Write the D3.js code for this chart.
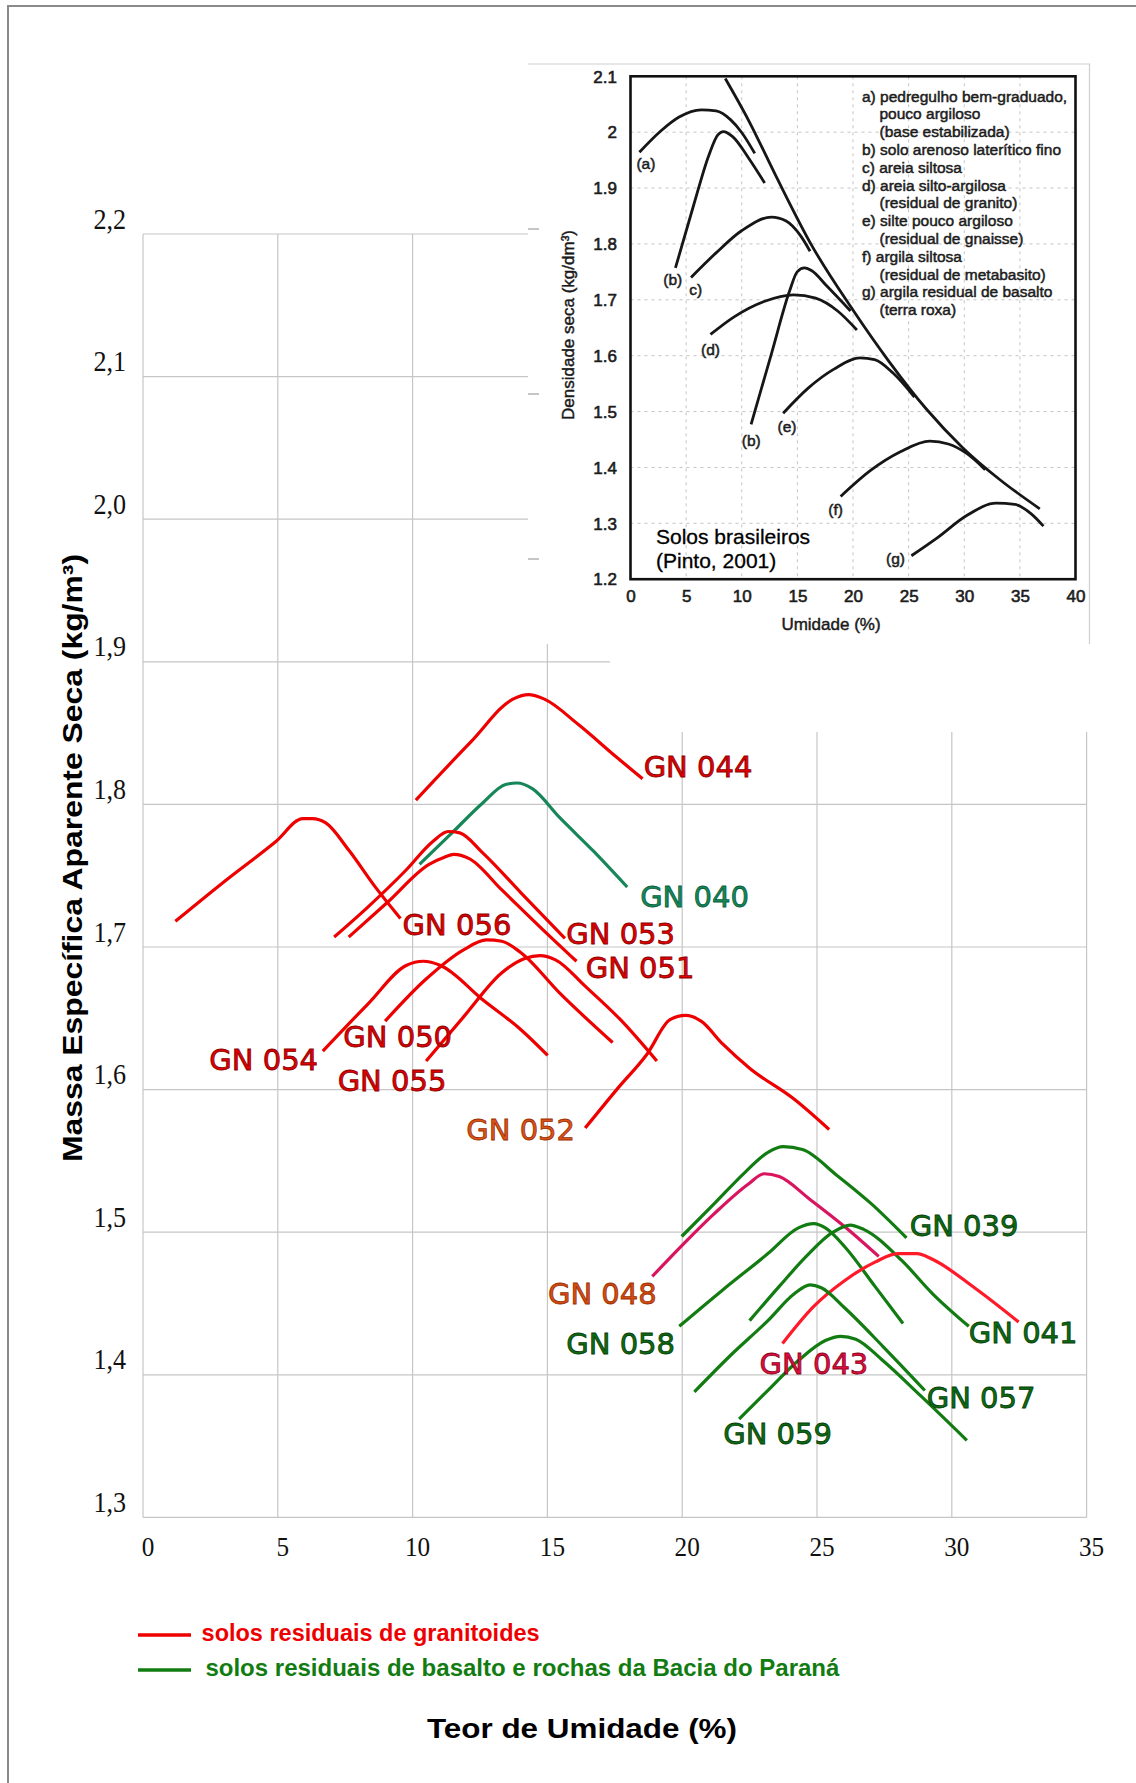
<!DOCTYPE html>
<html>
<head>
<meta charset="utf-8">
<script src="https://cdn.jsdelivr.net/npm/d3@7"></script>
<style>
body { margin: 0; background: #fff; }
svg { display: block; }
</style>
</head>
<body>
<svg id="chart" width="1136" height="1783"></svg>
<script>
// ---- main chart: teor de umidade (%) x massa especifica aparente seca
var xTicks = [0, 5, 10, 15, 20, 25, 30, 35];
var yTicks = [1.3, 1.4, 1.5, 1.6, 1.7, 1.8, 1.9, 2.0, 2.1, 2.2];

// granitoides
var GN044 = [[10.12,1.803],[12.17,1.844],[13.74,1.874],[14.30,1.877],[14.87,1.874],[16.15,1.856],[17.57,1.833],[18.53,1.818]];
var GN056 = [[1.20,1.718],[3.09,1.747],[4.93,1.774],[5.93,1.790],[6.28,1.790],[6.78,1.787],[7.63,1.768],[8.62,1.742],[9.55,1.720]];
var GN053 = [[7.09,1.707],[8.34,1.728],[9.76,1.754],[10.75,1.774],[11.32,1.781],[11.75,1.780],[12.60,1.766],[14.02,1.738],[15.65,1.706]];
var GN051 = [[7.63,1.707],[9.05,1.731],[10.61,1.758],[11.18,1.763],[11.53,1.765],[12.10,1.762],[13.31,1.740],[14.73,1.714],[16.08,1.690]];
var GN054 = [[6.67,1.627],[8.34,1.660],[9.76,1.687],[10.40,1.690],[11.04,1.687],[12.60,1.663],[14.02,1.642],[15.01,1.624]];
var GN050 = [[8.98,1.648],[10.47,1.677],[11.89,1.698],[12.74,1.705],[13.31,1.704],[14.02,1.696],[15.44,1.668],[17.42,1.633]];
var GN055 = [[10.50,1.620],[11.89,1.651],[13.31,1.682],[14.16,1.692],[14.73,1.694],[15.30,1.691],[16.43,1.672],[17.71,1.649],[19.06,1.620]];
var GN052 = [[16.40,1.573],[17.57,1.600],[18.70,1.625],[19.55,1.649],[20.12,1.652],[20.70,1.648],[21.50,1.632],[22.50,1.615],[24.17,1.593],[25.45,1.572]];
var GN048 = [[18.89,1.469],[20.06,1.492],[21.19,1.513],[22.47,1.534],[23.04,1.541],[23.60,1.539],[24.74,1.523],[26.02,1.504],[27.29,1.483]];
var GN043 = [[23.72,1.422],[24.88,1.448],[26.02,1.466],[27.15,1.479],[28.00,1.485],[28.71,1.485],[29.28,1.481],[30.84,1.461],[32.48,1.437]];
// basalto e rochas da Bacia do Parana
var GN040 = [[10.26,1.758],[11.46,1.780],[12.60,1.801],[13.45,1.814],[13.88,1.815],[14.44,1.811],[15.44,1.791],[16.72,1.767],[17.96,1.742]];
var GN039 = [[19.98,1.497],[21.19,1.520],[22.33,1.542],[23.18,1.556],[23.75,1.560],[24.46,1.558],[25.73,1.540],[27.01,1.520],[28.32,1.496]];
var GN058 = [[19.89,1.434],[21.47,1.459],[23.18,1.485],[24.31,1.503],[24.88,1.506],[25.31,1.503],[26.02,1.490],[27.15,1.462],[28.19,1.436]];
var GN041 = [[22.50,1.438],[23.60,1.462],[24.60,1.483],[25.59,1.500],[26.23,1.505],[26.73,1.502],[28.15,1.480],[29.28,1.457],[30.63,1.434]];
var GN057 = [[20.45,1.388],[21.76,1.413],[23.18,1.438],[24.17,1.457],[24.74,1.463],[25.16,1.461],[26.02,1.447],[27.44,1.420],[29.00,1.389]];
var GN059 = [[22.11,1.369],[23.18,1.389],[24.31,1.410],[25.31,1.424],[25.88,1.427],[26.44,1.425],[27.44,1.410],[28.86,1.385],[30.56,1.354]];

var legendNames = ["solos residuais de granitoides", "solos residuais de basalto e rochas da Bacia do Paraná"];

// ---- inset (Pinto, 2001)
var insetXTicks = [0, 5, 10, 15, 20, 25, 30, 35, 40];
var insetYTicks = [1.2, 1.3, 1.4, 1.5, 1.6, 1.7, 1.8, 1.9, 2.0, 2.1];
var curveA  = [[0.80,1.964],[2.72,2.002],[4.37,2.027],[6.36,2.040],[7.69,2.038],[9.01,2.022],[10.01,1.999],[11.17,1.962]];
var curveB1 = [[4.04,1.757],[5.70,1.871],[7.03,1.958],[7.85,1.995],[8.35,2.001],[9.18,1.992],[10.67,1.952],[12.06,1.909]];
var curveB2 = [[10.84,1.477],[12.66,1.603],[14.32,1.717],[14.98,1.750],[15.64,1.757],[16.30,1.752],[17.63,1.725],[19.78,1.680]];
var curveC  = [[5.44,1.740],[7.69,1.784],[10.01,1.824],[12.66,1.848],[13.99,1.841],[15.31,1.814],[16.14,1.787]];
var curveD  = [[7.19,1.638],[9.35,1.670],[12.00,1.697],[14.65,1.709],[16.64,1.703],[18.62,1.680],[20.35,1.646]];
var curveE  = [[13.72,1.497],[15.97,1.542],[18.29,1.576],[20.61,1.596],[21.94,1.593],[23.60,1.569],[25.52,1.526]];
var curveF  = [[18.89,1.348],[21.61,1.395],[24.26,1.428],[26.91,1.447],[28.57,1.442],[30.22,1.425],[31.88,1.396]];
var curveG  = [[25.25,1.242],[27.57,1.274],[30.22,1.314],[32.87,1.336],[34.53,1.334],[36.02,1.317],[37.12,1.295]];
var saturation = [[8.52,2.096],[10.67,2.019],[12.99,1.925],[16.30,1.797],[19.95,1.683],[23.26,1.589],[26.57,1.505],[29.88,1.435],[33.21,1.378],[36.79,1.326]];
var insetCurveNames = ["(a)", "(b)", "c)", "(d)", "(b)", "(e)", "(f)", "(g)"];
var insetLegend = ["a) pedregulho bem-graduado,", "pouco argiloso", "(base estabilizada)",
	"b) solo arenoso laterítico fino", "c) areia siltosa", "d) areia silto-argilosa",
	"(residual de granito)", "e) silte pouco argiloso", "(residual de gnaisse)",
	"f) argila siltosa", "(residual de metabasito)", "g) argila residual de basalto", "(terra roxa)"];


var RED = "#ee0000", GREEN = "#127c12";
var svg = d3.select("#chart");

var x = d3.scaleLinear().domain([0, 35]).range([143, 1086.6]);
var y = d3.scaleLinear().domain([1.3, 2.2]).range([1517.4, 234]);

//page frame
svg.append("rect")
	.attr("x", 8).attr("y", 6).attr("width", 1400).attr("height", 2000)
	.attr("fill", "none").attr("stroke", "#8a8a8a").attr("stroke-width", 2);

//grid
var grid = svg.append("g").attr("stroke", "#c6c6c6").attr("stroke-width", 1.2);
grid.selectAll("line.h").data(yTicks).join("line").attr("class", "h")
	.attr("x1", x(0)).attr("x2", x(35))
	.attr("y1", function(d) { return y(d); }).attr("y2", function(d) { return y(d); });
grid.selectAll("line.v").data(xTicks).join("line").attr("class", "v")
	.attr("y1", y(2.2)).attr("y2", y(1.3))
	.attr("x1", function(d) { return x(d); }).attr("x2", function(d) { return x(d); });

// the pasted pieces hide part of the grid
svg.append("rect").attr("x", 610).attr("y", 644).attr("width", 480).attr("height", 88).attr("fill", "#fff");

//axes
var yAxis = svg.append("g").attr("transform", "translate(126,0)")
	.call(d3.axisLeft(y).tickValues(yTicks).tickSize(0).tickPadding(0)
		.tickFormat(function(d) { return d.toFixed(1).replace(".", ","); }));
yAxis.select(".domain").remove();
yAxis.selectAll("text").attr("dy", null).attr("x", 0).attr("y", -6)
	.attr("transform", "scale(0.9,1)").attr("fill", "#111")
	.style("font-family", "'Liberation Serif'").style("font-size", "29px");

var xAxis = svg.append("g").attr("transform", "translate(0," + y(1.3) + ")")
	.call(d3.axisBottom(x).tickValues(xTicks).tickSize(0).tickPadding(0));
xAxis.select(".domain").remove();
xAxis.selectAll("text").attr("dy", null).attr("x", 5).attr("y", 39)
	.attr("transform", "scale(0.9,1)").attr("fill", "#111")
	.style("font-family", "'Liberation Serif'").style("font-size", "28px");

// ---- inset
var inset = svg.append("g");
inset.append("rect").attr("x", 528).attr("y", 64).attr("width", 561.5).attr("height", 580).attr("fill", "#fff");
inset.append("path").attr("d", "M528,64H1089.5V644").attr("fill", "none").attr("stroke", "#cfcfcf").attr("stroke-width", 1.2);
inset.selectAll("line.dash").data([229, 394, 559]).join("line").attr("class", "dash")
	.attr("x1", 528).attr("x2", 539).attr("y1", function(d) { return d; }).attr("y2", function(d) { return d; })
	.attr("stroke", "#a0a0a0").attr("stroke-width", 1.2);

var ix = d3.scaleLinear().domain([0, 40]).range([630.5, 1075.5]);
var iy = d3.scaleLinear().domain([1.2, 2.1]).range([579.2, 76.3]);

var ig = inset.append("g").attr("stroke", "#c4c4c4").attr("stroke-width", 1).attr("stroke-dasharray", "3,4");
ig.selectAll("line.iv").data(insetXTicks.slice(1, -1)).join("line").attr("class", "iv")
	.attr("x1", function(d) { return ix(d); }).attr("x2", function(d) { return ix(d); })
	.attr("y1", iy(2.1)).attr("y2", iy(1.2));
ig.selectAll("line.ih").data(insetYTicks.slice(1, -1)).join("line").attr("class", "ih")
	.attr("y1", function(d) { return iy(d); }).attr("y2", function(d) { return iy(d); })
	.attr("x1", ix(0)).attr("x2", ix(40));

var iyAxis = inset.append("g").attr("transform", "translate(617,0)")
	.call(d3.axisLeft(iy).tickValues(insetYTicks).tickSize(0).tickPadding(0)
		.tickFormat(function(d) { return String(+d.toFixed(1)); }));
var ixAxis = inset.append("g").attr("transform", "translate(0,602)")
	.call(d3.axisBottom(ix).tickValues(insetXTicks).tickSize(0).tickPadding(0));
iyAxis.select(".domain").remove();
ixAxis.select(".domain").remove();
iyAxis.selectAll("text").attr("dy", "0.34em");
ixAxis.selectAll("text").attr("dy", null).attr("y", 0);
inset.selectAll("g.tick text").attr("fill", "#1c1c1c").attr("stroke", "#1c1c1c").attr("stroke-width", 0.6)
	.style("font-family", "'Liberation Sans'").style("font-size", "17px");

inset.append("rect").attr("x", ix(0)).attr("y", iy(2.1)).attr("width", ix(40) - ix(0)).attr("height", iy(1.2) - iy(2.1))
	.attr("fill", "none").attr("stroke", "#111").attr("stroke-width", 2.6);

var iline = d3.line().x(function(d) { return ix(d[0]); }).y(function(d) { return iy(d[1]); })
	.curve(d3.curveMonotoneX);
inset.selectAll("path.ic").data([curveA, curveB1, curveB2, curveC, curveD, curveE, curveF, curveG, saturation])
	.join("path").attr("class", "ic")
	.attr("d", iline).attr("fill", "none").attr("stroke", "#161616").attr("stroke-width", 2.8);

var insetLabelAt = [[1.38,1.934],[3.80,1.726],[5.86,1.709],[7.19,1.601],[10.85,1.439],[14.07,1.463],[18.44,1.315],[23.82,1.227]];
var itext = inset.append("g").attr("fill", "#1c1c1c").attr("stroke", "#1c1c1c").attr("stroke-width", 0.5)
	.style("font-family", "'Liberation Sans'").style("font-size", "15.5px");
itext.selectAll("text.cl").data(insetCurveNames).join("text").attr("class", "cl")
	.attr("text-anchor", "middle")
	.attr("x", function(d, i) { return ix(insetLabelAt[i][0]); })
	.attr("y", function(d, i) { return iy(insetLabelAt[i][1]); })
	.text(function(d) { return d; });
itext.selectAll("text.lg").data(insetLegend).join("text").attr("class", "lg")
	.attr("x", function(d) { return /^[a-g]\)/.test(d) ? 862 : 879.5; })
	.attr("y", function(d, i) { return 101.5 + i * 17.8; })
	.text(function(d) { return d; });

var ititle = inset.append("g").attr("fill", "#1a1a1a").attr("stroke", "#1a1a1a").attr("stroke-width", 0.45)
	.style("font-family", "'Liberation Sans'").style("font-size", "17px");
ititle.append("text").attr("text-anchor", "middle").attr("x", 831).attr("y", 630).text("Umidade (%)");
ititle.append("text").attr("text-anchor", "middle")
	.attr("transform", "translate(574,325) rotate(-90)").text("Densidade seca (kg/dm³)");
var solos = inset.append("g").attr("fill", "#000").attr("stroke", "#000").attr("stroke-width", 0.3)
	.style("font-family", "'Liberation Sans'").style("font-size", "21px");
solos.append("text").attr("x", 656).attr("y", 544).text("Solos brasileiros");
solos.append("text").attr("x", 656).attr("y", 568).text("(Pinto, 2001)");

// ---- main curves
var series = [
	{name: "GN 044", pts: GN044, line: RED, fill: "#e00000", edge: "#8b0000", at: [18.57,1.8195]},
	{name: "GN 040", pts: GN040, line: "#17875a", fill: "#14875a", edge: "#0b5e3c", at: [18.44,1.7278]},
	{name: "GN 056", pts: GN056, line: RED, fill: "#e00000", edge: "#8b0000", at: [9.63,1.7087]},
	{name: "GN 053", pts: GN053, line: RED, fill: "#e00000", edge: "#8b0000", at: [15.70,1.7023]},
	{name: "GN 051", pts: GN051, line: RED, fill: "#e00000", edge: "#8b0000", at: [16.42,1.6784]},
	{name: "GN 050", pts: GN050, line: RED, fill: "#e00000", edge: "#8b0000", at: [7.43,1.6299]},
	{name: "GN 054", pts: GN054, line: RED, fill: "#e00000", edge: "#8b0000", at: [2.46,1.6137]},
	{name: "GN 055", pts: GN055, line: RED, fill: "#e00000", edge: "#8b0000", at: [7.22,1.5987]},
	{name: "GN 052", pts: GN052, line: RED, fill: "#d9541a", edge: "#9a3000", at: [11.99,1.5644]},
	{name: "GN 039", pts: GN039, line: GREEN, fill: "#0d6a12", edge: "#053d08", at: [28.44,1.4973]},
	{name: "GN 048", pts: GN048, line: "#d8155e", fill: "#d34c14", edge: "#9a3000", at: [15.02,1.4497]},
	{name: "GN 041", pts: GN041, line: GREEN, fill: "#0d6a12", edge: "#053d08", at: [30.63,1.4224]},
	{name: "GN 058", pts: GN058, line: GREEN, fill: "#0d6a12", edge: "#053d08", at: [15.70,1.4146]},
	{name: "GN 043", pts: GN043, line: "#ff1a2a", fill: "#de0f3e", edge: "#8b0020", at: [22.87,1.4009]},
	{name: "GN 057", pts: GN057, line: GREEN, fill: "#0d6a12", edge: "#053d08", at: [29.07,1.3770]},
	{name: "GN 059", pts: GN059, line: GREEN, fill: "#0d6a12", edge: "#053d08", at: [21.52,1.3515]}
];

var line = d3.line().x(function(d) { return x(d[0]); }).y(function(d) { return y(d[1]); })
	.curve(d3.curveMonotoneX);
svg.append("g").selectAll("path").data(series).join("path")
	.attr("d", function(s) { return line(s.pts); })
	.attr("fill", "none").attr("stroke", function(s) { return s.line; })
	.attr("stroke-width", 3.2).attr("stroke-linejoin", "round");

svg.append("g").style("font-family", "'DejaVu Sans'").style("font-size", "29px")
	.selectAll("text").data(series).join("text")
	.attr("x", function(s) { return x(s.at[0]); }).attr("y", function(s) { return y(s.at[1]); })
	.attr("fill", function(s) { return s.fill; }).attr("stroke", function(s) { return s.edge; })
	.attr("stroke-width", 0.8)
	.text(function(s) { return s.name; });

// ---- legend
var legend = svg.append("g").style("font-family", "'Liberation Sans'").style("font-weight", "bold").style("font-size", "24px");
var legendY = [1641, 1676], legendC = [RED, GREEN], legendW = [338, 634], legendX = [201.6, 205.4];
legend.selectAll("line").data(legendNames).join("line")
	.attr("x1", 138).attr("x2", 191)
	.attr("y1", function(d, i) { return legendY[i] - 6; }).attr("y2", function(d, i) { return legendY[i] - 6; })
	.attr("stroke", function(d, i) { return legendC[i]; }).attr("stroke-width", 3.5);
legend.selectAll("text").data(legendNames).join("text")
	.attr("x", function(d, i) { return legendX[i]; }).attr("y", function(d, i) { return legendY[i]; })
	.attr("textLength", function(d, i) { return legendW[i]; }).attr("lengthAdjust", "spacingAndGlyphs")
	.attr("fill", function(d, i) { return legendC[i]; })
	.text(function(d) { return d; });

// ---- axis titles
svg.append("text").attr("text-anchor", "middle").attr("x", 582).attr("y", 1738)
	.attr("textLength", 310).attr("lengthAdjust", "spacingAndGlyphs")
	.style("font-family", "'Liberation Sans'").style("font-weight", "bold").style("font-size", "27px")
	.text("Teor de Umidade (%)");
svg.append("text").attr("text-anchor", "middle").attr("transform", "translate(81.5,858) rotate(-90)")
	.attr("textLength", 608).attr("lengthAdjust", "spacingAndGlyphs")
	.style("font-family", "'Liberation Sans'").style("font-weight", "bold").style("font-size", "27px")
	.text("Massa Específica Aparente Seca (kg/m³)");
</script>
</body>
</html>
